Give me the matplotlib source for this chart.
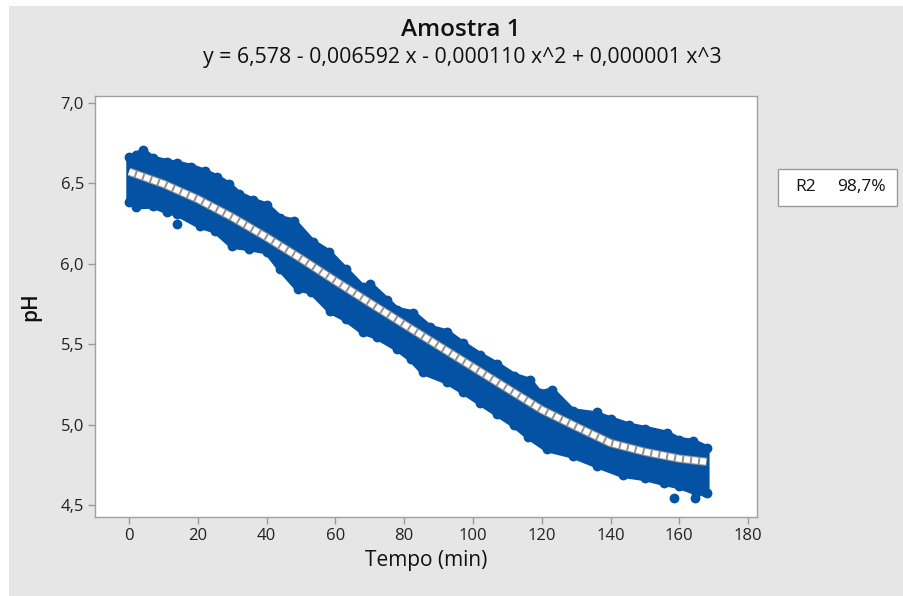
import numpy as np
import matplotlib
matplotlib.use("Agg")
import matplotlib.pyplot as plt
from matplotlib.patches import Rectangle

plt.rcParams['font.family'] = ['Open Sans', 'DejaVu Sans']

# upper edge of the scatter band (dot centres)
t_up = [0, 2, 4, 7, 11, 14, 18, 22, 25.5, 29, 32, 36, 40, 44, 48, 53.5, 58, 63, 68, 70,
        75, 78, 82.5, 87.5, 92.5, 97, 102, 107, 112, 116.5, 119.5, 123, 129, 136, 140,
        145.5, 150, 156.5, 160, 164, 168]
ph_up = [6.665, 6.675, 6.705, 6.655, 6.635, 6.625, 6.605, 6.575, 6.54, 6.495, 6.435, 6.395,
         6.365, 6.285, 6.265, 6.135, 6.075, 5.965, 5.855, 5.875, 5.775, 5.715, 5.695, 5.605,
         5.575, 5.505, 5.435, 5.375, 5.305, 5.275, 5.195, 5.215, 5.085, 5.065, 5.035, 4.995,
         4.975, 4.945, 4.905, 4.895, 4.855]

# lower edge of the scatter band (dot centres)
t_lo = [0, 2, 7, 11, 14, 20.5, 25, 30, 35, 40, 44, 49, 53, 58.5, 63, 68, 72, 78, 82, 85.5,
        92.5, 97, 102, 107, 112, 116, 121.5, 129, 136, 143.5, 150, 155.5, 160, 165, 168]
ph_lo = [6.385, 6.355, 6.36, 6.325, 6.31, 6.235, 6.205, 6.11, 6.095, 6.075, 5.965, 5.845,
         5.825, 5.705, 5.655, 5.575, 5.545, 5.47, 5.405, 5.325, 5.265, 5.205, 5.135, 5.065,
         4.995, 4.925, 4.845, 4.805, 4.745, 4.685, 4.665, 4.635, 4.615, 4.575, 4.575]

# stray points outside the band
out_t = [14, 136, 158.5, 164.5, 167.5]
out_ph = [6.245, 5.08, 4.54, 4.54, 4.58]

# fitted cubic
t_fit = [0, 10, 20, 30, 40, 50, 60, 70, 80, 90, 100, 110, 120, 130, 140, 150, 160, 168]
ph_fit = [6.573, 6.497, 6.402, 6.29, 6.165, 6.032, 5.893, 5.757, 5.623, 5.49, 5.357, 5.224,
          5.092, 4.987, 4.885, 4.83, 4.788, 4.768]

x_ticks = [0, 20, 40, 60, 80, 100, 120, 140, 160, 180]
y_ticks = [4.5, 5.0, 5.5, 6.0, 6.5, 7.0]
y_labels = ['4,5', '5,0', '5,5', '6,0', '6,5', '7,0']

blue = '#0352a4'
grey_bg = '#e6e6e6'

fig = plt.figure(figsize=(9.04, 5.96), dpi=100)
fig.patch.set_facecolor('white')
fig.patches.append(Rectangle((9 / 904, 0), 1 - 9 / 904, 1 - 6 / 596, transform=fig.transFigure,
                             facecolor=grey_bg, edgecolor='none', zorder=-5))

ax = fig.add_axes([0.1051, 0.1326, 0.7323, 0.7064])
ax.set_zorder(2)
ax.set_facecolor('white')

# scatter band
band_x = np.r_[t_up, t_lo[::-1]]
band_y = np.r_[ph_up, ph_lo[::-1]]
ax.fill(band_x, band_y, facecolor=blue, edgecolor=blue, lw=4, joinstyle='round', zorder=2)
ax.scatter(t_up, ph_up, s=50, color=blue, lw=0, zorder=2)
ax.scatter(t_lo, ph_lo, s=50, color=blue, lw=0, zorder=2)
ax.scatter(out_t, out_ph, s=50, color=blue, lw=0, zorder=2)

# fitted line: white squares with grey rim
ax.plot(t_fit, ph_fit, color='#909090', lw=6.0, solid_capstyle='butt', zorder=3)
ax.plot(t_fit, ph_fit, color='white', lw=4.4, dashes=(1.0, 0.32), dash_capstyle='butt', zorder=4)

ax.set_xlim(-9.9, 182.6)
ax.set_ylim(4.425, 7.044)
ax.set_xticks(x_ticks)
ax.set_xticklabels([str(v) for v in x_ticks])
ax.set_yticks(y_ticks)
ax.set_yticklabels(y_labels)
ax.tick_params(direction='out', length=5, width=1, color='#9a9a9a', labelsize=12,
               labelcolor='#222222', pad=3)
for s in ax.spines.values():
    s.set_color('#a0a0a0')
    s.set_linewidth(1)

ax.set_xlabel('Tempo (min)', fontsize=15, color='#111111', labelpad=4)
ax.set_ylabel('pH', fontsize=15, fontweight='semibold', color='#111111', labelpad=14)

fig.text(461 / 904, 1 - 30 / 596, 'Amostra 1', ha='center', va='center', fontsize=17.5,
         fontweight='semibold', color='#111111')
fig.text(462 / 904, 1 - 58 / 596, 'y = 6,578 - 0,006592 x - 0,000110 x^2 + 0,000001 x^3',
         ha='center', va='center', fontsize=15.3, color='#111111')

# R2 box
fig.patches.append(Rectangle((778 / 904, 1 - 206 / 596), 119 / 904, 37 / 596,
                             transform=fig.transFigure, facecolor='white',
                             edgecolor='#9a9a9a', lw=1, zorder=2))
fig.text(806 / 904, 1 - 187 / 596, 'R2', ha='center', va='center', fontsize=12.5, color='#111111')
fig.text(861 / 904, 1 - 187 / 596, '98,7%', ha='center', va='center', fontsize=12.5, color='#111111')

plt.savefig('out.png', dpi=100, facecolor=fig.get_facecolor())
